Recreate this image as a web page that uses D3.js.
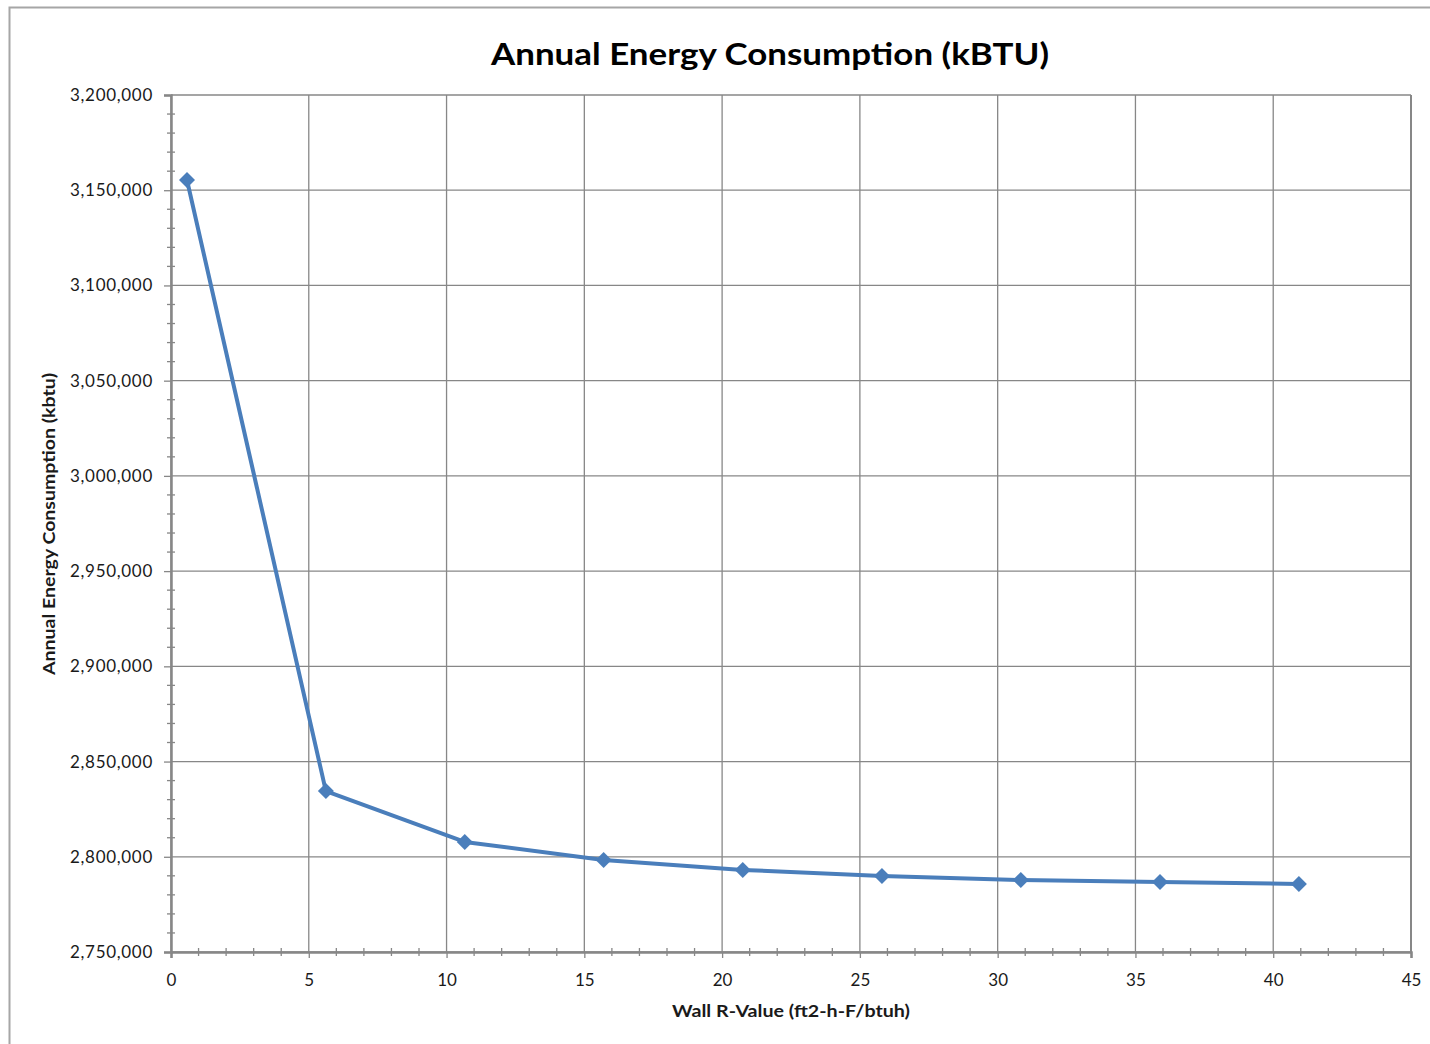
<!DOCTYPE html>
<html>
<head>
<meta charset="utf-8">
<script src="https://cdn.jsdelivr.net/npm/d3@7"></script>
<style>
  body { margin: 0; background: #fff; }
  svg { display: block; font-family: Lato, "Open Sans", sans-serif; }
</style>
</head>
<body>
<div id="chart"></div>
<script>
// data
var rValues = [0.58, 5.62, 10.66, 15.7, 20.75, 25.8, 30.84, 35.89, 40.93];
var energy = [3155400, 2834500, 2807800, 2798300, 2793100, 2789900, 2787800, 2786800, 2785700];
var xTicks = [0, 5, 10, 15, 20, 25, 30, 35, 40, 45];
var yTicks = [2750000, 2800000, 2850000, 2900000, 2950000, 3000000, 3050000, 3100000, 3150000, 3200000];

var titleText = "Annual Energy Consumption (kBTU)";
var xLabel = "Wall R-Value (ft2-h-F/btuh)";
var yLabel = "Annual Energy Consumption (kbtu)";

var W = 1430, H = 1044;
var margin = { top: 95, right: 19, bottom: 92, left: 171 };
var width = W - margin.left - margin.right,
    height = H - margin.top - margin.bottom;

var svg = d3.select("#chart").append("svg")
  .attr("width", W)
  .attr("height", H);

// outer chart border (only top and left are visible)
svg.append("rect")
  .attr("x", 9.5).attr("y", 7.5)
  .attr("width", W + 20).attr("height", H + 20)
  .attr("fill", "none")
  .attr("stroke", "#a6a6a6")
  .attr("stroke-width", 2);

var g = svg.append("g")
  .attr("transform", "translate(" + margin.left + "," + margin.top + ")");

var xScale = d3.scaleLinear().domain([0, 45]).range([0, width]);
var yScale = d3.scaleLinear().domain([2750000, 3200000]).range([height, 0]);

var gridColor = "#878787";

// gridlines
g.append("g").selectAll("line.vgrid")
  .data(xTicks).enter().append("line")
  .attr("x1", function(d) { return xScale(d); })
  .attr("x2", function(d) { return xScale(d); })
  .attr("y1", 0).attr("y2", height)
  .attr("stroke", gridColor).attr("stroke-width", 1.3);

g.append("g").selectAll("line.hgrid")
  .data(yTicks).enter().append("line")
  .attr("x1", 0).attr("x2", width)
  .attr("y1", function(d) { return yScale(d); })
  .attr("y2", function(d) { return yScale(d); })
  .attr("stroke", gridColor).attr("stroke-width", 1.3);

// minor ticks
var xMinor = d3.range(0, 46, 1).filter(function(d) { return d % 5 != 0; });
var yMinor = d3.range(2750000, 3200001, 10000).filter(function(d) { return d % 50000 != 0; });

g.append("g").selectAll("line")
  .data(xMinor).enter().append("line")
  .attr("x1", function(d) { return xScale(d); })
  .attr("x2", function(d) { return xScale(d); })
  .attr("y1", height - 4).attr("y2", height + 4)
  .attr("stroke", gridColor).attr("stroke-width", 1.3);

g.append("g").selectAll("line")
  .data(yMinor).enter().append("line")
  .attr("x1", -4).attr("x2", 4)
  .attr("y1", function(d) { return yScale(d); })
  .attr("y2", function(d) { return yScale(d); })
  .attr("stroke", gridColor).attr("stroke-width", 1.3);

// axes
var xAxis = d3.axisBottom(xScale).tickValues(xTicks).tickSize(6).tickPadding(14)
  .tickFormat(d3.format("d"));
var yAxis = d3.axisLeft(yScale).tickValues(yTicks).tickSize(7).tickPadding(11)
  .tickFormat(d3.format(","));

var gx = g.append("g")
  .attr("transform", "translate(0," + height + ")")
  .call(xAxis);
var gy = g.append("g").call(yAxis);

[gx, gy].forEach(function(a) {
  a.select(".domain").attr("stroke", gridColor).attr("stroke-width", 2.5);
  a.selectAll(".tick line").attr("stroke", gridColor).attr("stroke-width", 1.3);
  a.selectAll(".tick text")
    .attr("fill", "#1a1a1a")
    .style("font-size", "17px")
    .style("font-family", "Lato, 'Open Sans', sans-serif");
});
gx.selectAll(".tick text").attr("dy", "0.85em");
gy.selectAll(".tick text").style("letter-spacing", "0.7px");

// right border of the plot area
g.append("line")
  .attr("x1", width).attr("x2", width)
  .attr("y1", 0).attr("y2", height)
  .attr("stroke", gridColor).attr("stroke-width", 2);

// series line
var line = d3.line()
  .x(function(d, i) { return xScale(rValues[i]); })
  .y(function(d) { return yScale(d); });

g.append("path")
  .datum(energy)
  .attr("d", line)
  .attr("fill", "none")
  .attr("stroke", "#4a7ebb")
  .attr("stroke-width", 4)
  .attr("stroke-linejoin", "round");

// diamond markers
g.append("g").selectAll("path")
  .data(energy).enter().append("path")
  .attr("d", "M0,-8L8,0L0,8L-8,0Z")
  .attr("transform", function(d, i) {
    return "translate(" + xScale(rValues[i]) + "," + yScale(d) + ")";
  })
  .attr("fill", "#4a7ebb");

// title
svg.append("text")
  .attr("x", 770).attr("y", 65)
  .attr("text-anchor", "middle")
  .attr("font-size", "31px")
  .attr("font-weight", "bold")
  .attr("fill", "#000")
  .attr("textLength", 558)
  .attr("lengthAdjust", "spacingAndGlyphs")
  .text(titleText);

// x axis label
svg.append("text")
  .attr("x", 791).attr("y", 1017)
  .attr("text-anchor", "middle")
  .attr("font-size", "17px")
  .attr("font-weight", "bold")
  .attr("fill", "#1a1a1a")
  .attr("textLength", 238)
  .attr("lengthAdjust", "spacingAndGlyphs")
  .text(xLabel);

// y axis label
svg.append("text")
  .attr("transform", "translate(55,524) rotate(-90)")
  .attr("text-anchor", "middle")
  .attr("font-size", "17px")
  .attr("font-weight", "bold")
  .attr("fill", "#1a1a1a")
  .attr("textLength", 302)
  .attr("lengthAdjust", "spacingAndGlyphs")
  .text(yLabel);
</script>
</body>
</html>
